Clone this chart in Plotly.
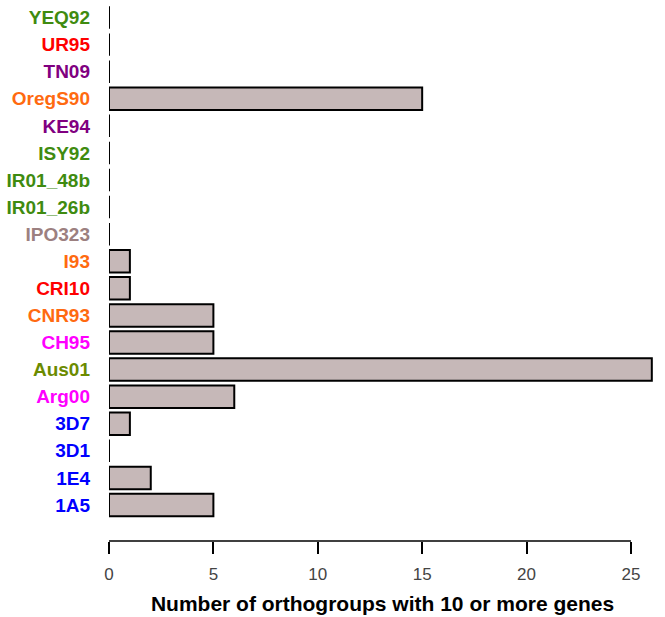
import plotly.graph_objects as go

categories = ["1A5", "1E4", "3D1", "3D7", "Arg00", "Aus01", "CH95", "CNR93", "CRI10", "I93",
              "IPO323", "IR01_26b", "IR01_48b", "ISY92", "KE94", "OregS90", "TN09", "UR95", "YEQ92"]
values = [5, 2, 0, 1, 6, 26, 5, 5, 1, 1, 0, 0, 0, 0, 0, 15, 0, 0, 0]
label_colors = ["#0000FF", "#0000FF", "#0000FF", "#0000FF", "#FF00FF", "#6B8B00", "#FF00FF", "#FF6A10",
                "#FF0000", "#FF6A10", "#9C8080", "#3F8B10", "#3F8B10", "#3F8B10", "#800080", "#FF6A10",
                "#800080", "#FF0000", "#3F8B10"]
x_ticks = [0, 5, 10, 15, 20, 25]
x_title = "Number of orthogroups with 10 or more genes"

ticktext = [f'<span style="color:{c}">{t}</span>' for t, c in zip(categories, label_colors)]

fig = go.Figure()
fig.add_trace(go.Bar(
    x=values, y=list(range(len(categories))), orientation="h",
    width=0.83,
    marker=dict(color="#C6B8B8", line=dict(color="black", width=2)),
))

fig.update_layout(
    width=665, height=617,
    margin=dict(l=109, r=9, t=4, b=76),
    plot_bgcolor="white", paper_bgcolor="white",
    showlegend=False,
    font=dict(family="Liberation Sans, Arial, sans-serif"),
    xaxis=dict(range=[0, 26.2], tickvals=x_ticks, ticks="outside", ticklen=12, tickwidth=1.5,
               tickcolor="black", showgrid=False, zeroline=False, showline=False,
               ticklabelstandoff=6,
               tickfont=dict(size=17, color="#444444"),
               title=dict(text=f"<b>{x_title}</b>", font=dict(size=21, color="black"), standoff=12)),
    yaxis=dict(range=[-1.33, 18.5], tickvals=list(range(len(categories))), ticktext=ticktext,
               showgrid=False, zeroline=False, showline=False, ticks="",
               ticklabelstandoff=18,
               tickfont=dict(size=19, family="Liberation Sans, Arial, sans-serif", weight="bold")),
)
fig.add_shape(type="line", xref="x", yref="paper", x0=x_ticks[0], x1=x_ticks[-1], y0=0, y1=0,
              line=dict(color="black", width=1.5))

fig.write_html("out.html")
